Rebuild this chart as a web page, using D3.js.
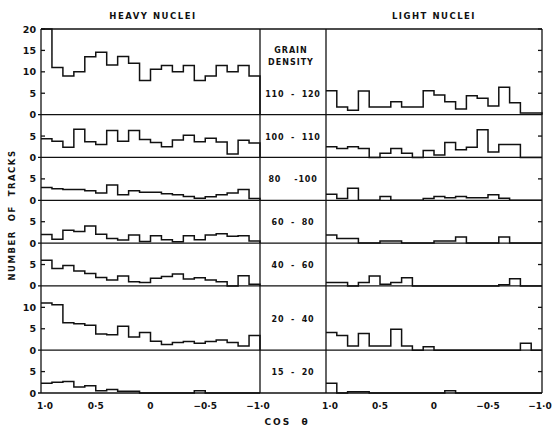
<!DOCTYPE html>
<meta charset="utf-8">
<html>
<head>
    <script src="https://d3js.org/d3.v7.min.js"></script>
    <style>
        body { margin: 0; background: #fff; }
        text { font-family: "DejaVu Sans", sans-serif; font-weight: bold; fill: #111; }
    </style>
</head>
<body>
<div id="chart"></div>
<script>

    // grain density groups, top to bottom
    var groups = ["110 - 120", "100 - 110", "80  -100", "60 - 80", "40 - 60", "20 - 40", "15 - 20"];
    var rowMax = [20, 10, 10, 10, 10, 15, 10];
    var rowTicks = [[0, 5, 10, 15, 20], [0, 5], [0, 5], [0, 5], [0, 5], [0, 5, 10], [0, 5]];

    // cos theta tick labels
    var cosTicks = [1, 0.5, 0, -0.5, -1];
    var cosLabels = ["1·0", "0·5", "0", "−0·5", "−1·0"];

    // number of tracks per 0.1 bin of cos theta, from 1.0 down to -1.0
    var heavy110 = [20, 11, 9, 10, 13.5, 14.6, 11.6, 13.6, 12, 8, 10.6, 11.5, 10, 11.5, 8, 9, 11.5, 10, 11.5, 9];
    var heavy100 = [4.4, 3.8, 2.4, 6.6, 3.7, 3, 6.3, 3.8, 6.3, 4.2, 3.5, 2.5, 4.1, 5.2, 3.7, 4.5, 3.6, 0.8, 4, 3.4];
    var heavy80 = [3, 2.7, 2.5, 2.5, 2.2, 1.7, 3.6, 1.3, 2.2, 1.9, 1.9, 1.5, 1.3, 0.9, 0.5, 0.8, 1.3, 1.7, 2.5, 0.4];
    var heavy60 = [2, 0.9, 3, 2.7, 4, 2.1, 1.1, 0.7, 1.9, 0.4, 1.7, 0.8, 0.3, 1.7, 0.8, 1.9, 2.2, 1.6, 1.7, 0.5];
    var heavy40 = [6, 4.1, 4.8, 3.5, 2.9, 2, 1.4, 2.3, 1, 0.8, 1.8, 2.2, 2.8, 1.6, 1.9, 1.4, 1, 0, 2.4, 0.4];
    var heavy20 = [11, 10.6, 6.4, 6.2, 5.8, 3.8, 3.6, 5.6, 3.1, 4.1, 2.1, 1.3, 1.8, 2, 1.6, 2, 2.4, 1.8, 1, 3.4];
    var heavy15 = [2.3, 2.5, 2.7, 1.4, 1.7, 0.5, 0.8, 0.4, 0.4, 0, 0, 0, 0, 0, 0.5, 0, 0, 0, 0, 0];

    var light110 = [5.6, 1.8, 1, 5.5, 1.8, 1.8, 3, 1.8, 1.8, 5.6, 4.6, 3, 1.3, 4.4, 3.8, 2, 6.4, 2.8, 0.4, 0.4];
    var light100 = [2.5, 2.1, 2.5, 2.1, 0, 1, 2.1, 1, 0, 1.6, 0.6, 3.5, 1.8, 2.4, 6.5, 1.3, 3, 3, 0, 0];
    var light80 = [1.4, 0.4, 2.8, 0, 0, 0.9, 0, 0, 0, 0.4, 0.9, 0.6, 0.9, 0.6, 0.6, 1.3, 0.5, 0, 0, 0];
    var light60 = [1.9, 1.1, 1.1, 0, 0, 0.5, 0.5, 0, 0, 0, 0.5, 0.5, 1.4, 0, 0, 0, 1.4, 0, 0, 0];
    var light40 = [0.8, 0.8, 0, 0.8, 2.3, 0.4, 0.8, 1.9, 0, 0, 0, 0, 0, 0, 0, 0, 0.3, 1.7, 0, 0];
    var light20 = [4.1, 3.4, 1, 3.9, 1, 1, 4.9, 1, 0, 0.8, 0, 0, 0, 0, 0, 0, 0, 0, 1.6, 0];
    var light15 = [2.3, 0, 0.3, 0.3, 0, 0, 0, 0, 0, 0, 0, 0.5, 0, 0, 0, 0, 0, 0, 0, 0];

    var heavy = [heavy110, heavy100, heavy80, heavy60, heavy40, heavy20, heavy15];
    var light = [light110, light100, light80, light60, light40, light20, light15];

    var W = 554, H = 426;
    var yTop = 29, yBottom = 393;

    var svg = d3.select("#chart").append("svg")
        .attr("width", W)
        .attr("height", H);

    // x scales for the two panels
    var xL = d3.scaleLinear().domain([1, -1]).range([41, 260]);
    var xR = d3.scaleLinear().domain([1, -1]).range([326, 542]);

    // stacked rows share one unit height
    var totalUnits = d3.sum(rowMax);
    var unit = d3.scaleLinear().domain([0, totalUnits]).range([yTop, yBottom]);
    var rows = [];
    var acc = 0;
    rowMax.forEach(function (m) {
        acc += m;
        rows.push(d3.scaleLinear().domain([0, m]).range([unit(acc), unit(acc - m)]));
    });

    var line = d3.line()
        .x(function (d) { return d[0]; })
        .y(function (d) { return d[1]; });

    function steps(values, x, y) {
        var pts = [];
        values.forEach(function (v, i) {
            var a = 1 - i * 0.1, b = 1 - (i + 1) * 0.1;
            pts.push([x(a), y(v)]);
            pts.push([x(b), y(v)]);
        });
        pts.push([x(-1), y(0)]);
        return pts;
    }

    // histograms
    rows.forEach(function (y, r) {
        svg.append("path")
            .attr("d", line(steps(heavy[r], xL, y)))
            .attr("fill", "none")
            .attr("stroke", "#111")
            .attr("stroke-width", 1.5);
        svg.append("path")
            .attr("d", line(steps(light[r], xR, y)))
            .attr("fill", "none")
            .attr("stroke", "#111")
            .attr("stroke-width", 1.5);
    });

    // frame: baselines and vertical dividers
    var frame = svg.append("g")
        .attr("stroke", "#111")
        .attr("stroke-width", 1.3);
    frame.append("line").attr("x1", 41).attr("x2", 542).attr("y1", yTop).attr("y2", yTop);
    rows.forEach(function (y) {
        frame.append("line").attr("x1", 38).attr("x2", 542).attr("y1", y(0)).attr("y2", y(0));
    });
    [41, 260, 326, 542].forEach(function (x) {
        frame.append("line").attr("x1", x).attr("x2", x).attr("y1", yTop).attr("y2", yBottom);
    });

    // y ticks and labels
    rows.forEach(function (y, r) {
        rowTicks[r].forEach(function (t) {
            if (t > 0) {
                frame.append("line").attr("x1", 41).attr("x2", 45).attr("y1", y(t)).attr("y2", y(t));
                frame.append("line").attr("x1", 538).attr("x2", 542).attr("y1", y(t)).attr("y2", y(t));
            }
            svg.append("text")
                .attr("x", 36)
                .attr("y", y(t) + 3.5)
                .attr("text-anchor", "end")
                .style("font-size", "9.5px")
                .text(t);
        });
    });

    // grain density labels in middle column
    svg.append("text").attr("x", 291).attr("y", 53).attr("text-anchor", "middle")
        .style("font-size", "8px").style("letter-spacing", "1px").text("GRAIN");
    svg.append("text").attr("x", 291).attr("y", 65).attr("text-anchor", "middle")
        .style("font-size", "8px").style("letter-spacing", "1px").text("DENSITY");
    groups.forEach(function (g, r) {
        var lv = r == 5 ? 7.3 : 5;
        svg.append("text")
            .attr("x", 293)
            .attr("y", rows[r](lv) + 3.5)
            .attr("text-anchor", "middle")
            .style("font-size", "8px")
            .style("letter-spacing", "0.8px")
            .style("word-spacing", "3px")
            .style("white-space", "pre")
            .text(g);
    });

    // x tick labels
    [xL, xR].forEach(function (x) {
        cosTicks.forEach(function (t, i) {
            svg.append("text")
                .attr("x", x(t) + (i == 0 ? 4 : 0) - (i == 4 ? 2 : 0))
                .attr("y", 409)
                .attr("text-anchor", "middle")
                .style("font-size", "9px")
                .text(cosLabels[i]);
        });
    });

    // titles
    svg.append("text").attr("x", 153).attr("y", 19).attr("text-anchor", "middle")
        .style("font-size", "8.5px").style("letter-spacing", "1.5px").text("HEAVY NUCLEI");
    svg.append("text").attr("x", 434).attr("y", 19).attr("text-anchor", "middle")
        .style("font-size", "8.5px").style("letter-spacing", "1.5px").text("LIGHT NUCLEI");
    svg.append("text").attr("x", 287).attr("y", 425).attr("text-anchor", "middle")
        .style("font-size", "9px").style("letter-spacing", "2px")
        .style("white-space", "pre").text("COS  θ");
    svg.append("text")
        .attr("transform", "translate(15,215) rotate(-90)")
        .attr("text-anchor", "middle")
        .style("font-size", "8.5px")
        .style("letter-spacing", "1.5px")
        .style("white-space", "pre")
        .text("NUMBER  OF  TRACKS");

</script>
</body>
</html>
